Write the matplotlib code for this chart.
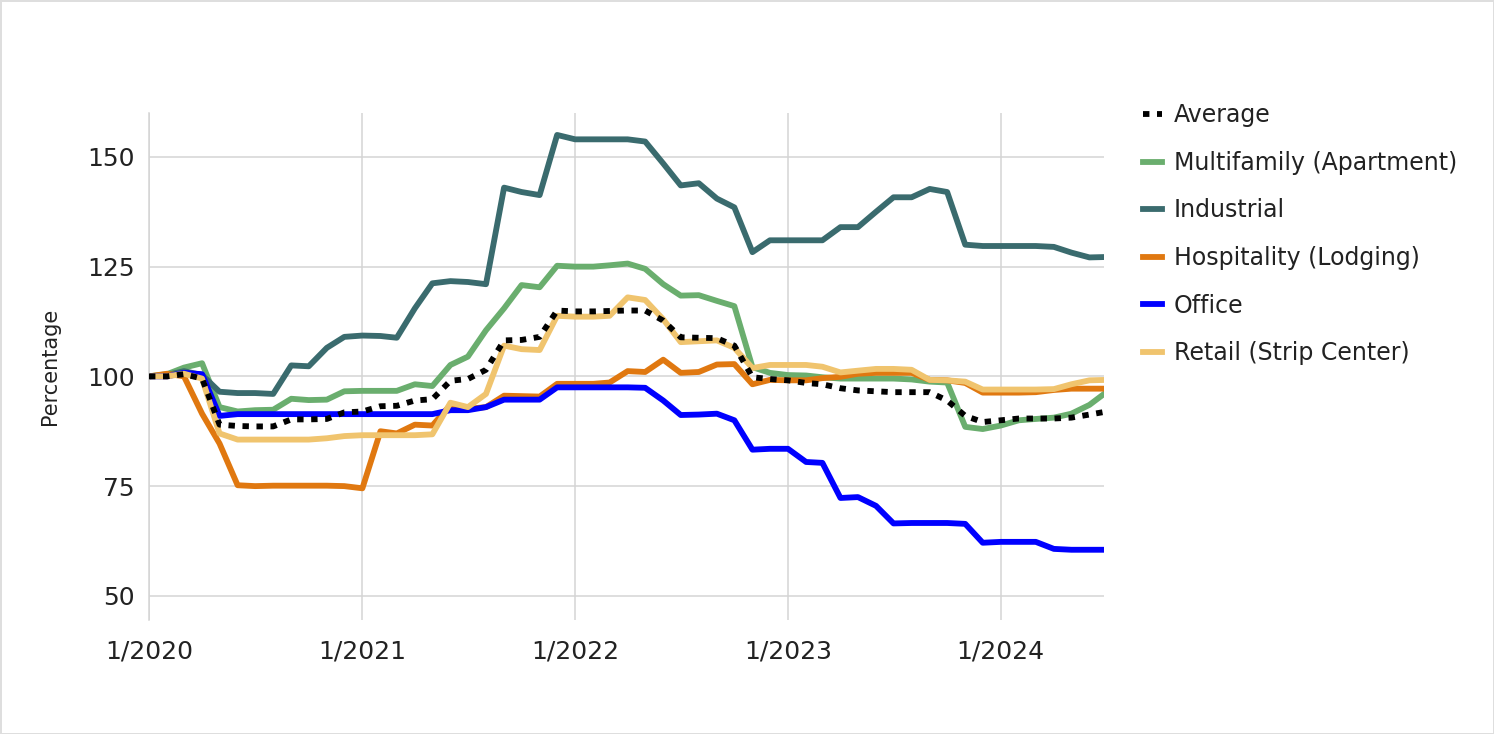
import numpy as np
import pandas as pd
import matplotlib
matplotlib.use("Agg")
import matplotlib.pyplot as plt

# monthly index values, 1/2020 .. 7/2024
months = pd.date_range("2020-01-01", periods=55, freq="MS")

average = [100, 100, 100.5, 99.5, 89, 88.7, 88.6, 88.6, 90.2, 90.2,
           90.3, 91.8, 92, 93.2, 93.3, 94.5, 94.8, 99, 99.4, 101.5,
           108.2, 108.3, 109, 115, 114.8, 114.8, 114.9, 115, 115, 112.7,
           108.9, 108.8, 108.7, 107, 99.8, 99.4, 99.1, 98.5, 98.2, 97.3,
           96.8, 96.6, 96.4, 96.4, 96.4, 94.5, 91, 89.6, 90, 90.4,
           90.4, 90.4, 90.6, 91.3, 92]

multifamily = [100, 100.5, 102, 103, 93, 92, 92.3, 92.4, 94.9, 94.6,
               94.7, 96.6, 96.7, 96.7, 96.7, 98.2, 97.8, 102.6, 104.5, 110.5,
               115.5, 120.8, 120.3, 125.2, 125, 125, 125.3, 125.7, 124.5, 121,
               118.4, 118.5, 117.2, 116, 102.1, 100.8, 100.3, 100.2, 99.8, 99.5,
               99.5, 99.5, 99.5, 99.3, 98.8, 98.6, 88.5, 88, 88.8, 90,
               90.3, 90.6, 91.5, 93.5, 96.5]

industrial = [100, 100.3, 101.2, 100.3, 96.5, 96.2, 96.2, 96, 102.5, 102.3,
              106.5, 109, 109.3, 109.2, 108.8, 115.5, 121.2, 121.7, 121.5, 121,
              143, 142, 141.3, 155, 154, 154, 154, 154, 153.5, 148.5,
              143.5, 144, 140.5, 138.5, 128.3, 131, 131, 131, 131, 134,
              134, 137.5, 140.8, 140.8, 142.7, 142, 130, 129.7, 129.7, 129.7,
              129.7, 129.5, 128.2, 127.1, 127.2]

hospitality = [100, 100.6, 100, 91.5, 84.7, 75.2, 75, 75.1, 75.1, 75.1,
               75.1, 75, 74.5, 87.5, 87, 89, 88.8, 93.5, 92.6, 93,
               95.6, 95.5, 95.4, 98.3, 98.3, 98.3, 98.6, 101.2, 101, 103.8,
               100.8, 101, 102.7, 102.8, 98.2, 99.2, 99.1, 99.1, 99.6, 99.9,
               100.6, 100.8, 100.8, 100.8, 99.2, 99.1, 98.5, 96.3, 96.3, 96.3,
               96.4, 96.9, 97.2, 97.2, 97.2]

office = [100, 100, 100.8, 100.5, 91, 91.4, 91.4, 91.4, 91.4, 91.4,
          91.4, 91.4, 91.4, 91.4, 91.4, 91.4, 91.4, 92.3, 92.3, 93,
          94.7, 94.7, 94.7, 97.5, 97.5, 97.5, 97.5, 97.5, 97.4, 94.5,
          91.2, 91.3, 91.5, 90, 83.3, 83.5, 83.5, 80.5, 80.3, 72.3,
          72.5, 70.5, 66.5, 66.6, 66.6, 66.6, 66.4, 62.1, 62.3, 62.3,
          62.3, 60.7, 60.5, 60.5, 60.5]

retail = [100, 100, 100.6, 99.5, 87, 85.6, 85.6, 85.6, 85.6, 85.6,
          85.9, 86.4, 86.6, 86.6, 86.6, 86.6, 86.8, 94, 93, 96,
          107, 106.2, 106, 113.8, 113.6, 113.6, 113.8, 118, 117.4, 113,
          107.8, 108, 108.2, 106.5, 101.9, 102.6, 102.6, 102.6, 102.2, 100.9,
          101.3, 101.7, 101.7, 101.5, 99.2, 99.1, 98.8, 97, 97, 97,
          97, 97.1, 98.2, 99.1, 99.2]

year_ticks = pd.to_datetime(["2020-01-01", "2021-01-01", "2022-01-01", "2023-01-01", "2024-01-01"])
year_labels = ["1/2020", "1/2021", "1/2022", "1/2023", "1/2024"]

fig = plt.figure(figsize=(14.94, 7.34), dpi=100, facecolor="white",
                 edgecolor="#dedede", linewidth=2)
ax = fig.add_axes([149 / 1494, 1 - 620 / 734, 955 / 1494, 507 / 734])

lw = 4.2
lines = {}
lines["Multifamily (Apartment)"] = ax.plot(months, multifamily, color="#6aae6e", lw=lw, solid_joinstyle="round")[0]
lines["Industrial"] = ax.plot(months, industrial, color="#3a6b6e", lw=lw, solid_joinstyle="round")[0]
lines["Hospitality (Lodging)"] = ax.plot(months, hospitality, color="#e07810", lw=lw, solid_joinstyle="round")[0]
lines["Office"] = ax.plot(months, office, color="#0000ff", lw=lw, solid_joinstyle="round")[0]
lines["Retail (Strip Center)"] = ax.plot(months, retail, color="#f0c46e", lw=lw, solid_joinstyle="round")[0]
lines["Average"] = ax.plot(months, average, color="black", lw=lw, linestyle=(0, (1.1, 1.3)),
                           dash_capstyle="butt", zorder=5)[0]

ax.set_xlim(pd.Timestamp("2020-01-01"), pd.Timestamp("2024-06-26"))
ax.set_ylim(44.5, 160)
ax.set_yticks([50, 75, 100, 125, 150])
ax.set_xticks(year_ticks)
ax.set_xticklabels(year_labels)
ax.tick_params(axis="both", length=0, labelsize=18, labelcolor="#222222")
ax.tick_params(axis="y", pad=10)
ax.tick_params(axis="x", pad=14)
ax.grid(True, color="#d4d4d4", linewidth=1.1)
ax.set_axisbelow(True)
for s in ["top", "right", "bottom"]:
    ax.spines[s].set_visible(False)
ax.spines["left"].set_color("#d4d4d4")
ax.spines["left"].set_linewidth(1.1)

ax.set_ylabel("Percentage", fontsize=15, color="#222222")
ax.yaxis.set_label_coords(-0.093, 0.5)

order = ["Average", "Multifamily (Apartment)", "Industrial", "Hospitality (Lodging)",
         "Office", "Retail (Strip Center)"]
fig.legend([lines[k] for k in order], order, loc="upper left",
           bbox_to_anchor=(1122 / 1494, 1 - 82 / 734), frameon=False,
           fontsize=17, handlelength=0.8, handletextpad=0.5, labelspacing=1.0,
           labelcolor="#222222")

fig.savefig("out.png", dpi=100, facecolor="white", edgecolor=fig.get_edgecolor())
